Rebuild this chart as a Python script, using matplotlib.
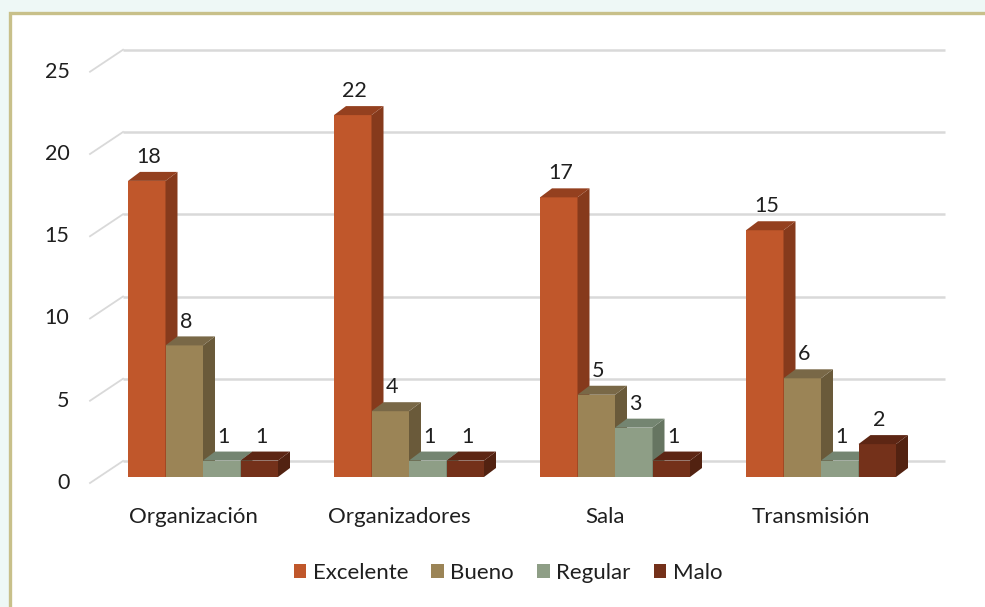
import matplotlib
matplotlib.use("Agg")
import matplotlib.pyplot as plt
from matplotlib.patches import Polygon, Rectangle, Patch

plt.rcParams["font.family"] = ["Lato", "DejaVu Sans"]

categories = ["Organización", "Organizadores", "Sala", "Transmisión"]
series = ["Excelente", "Bueno", "Regular", "Malo"]
excelente = [18, 22, 17, 15]
bueno = [8, 4, 5, 6]
regular = [1, 1, 3, 1]
malo = [1, 1, 1, 2]
yticks = [0, 5, 10, 15, 20, 25]

values = [excelente, bueno, regular, malo]
# front, side, top colours per series
colors = {
    "Excelente": ("#C0572B", "#863A1C", "#94401F"),
    "Bueno": ("#9B8456", "#6A5A3A", "#796847"),
    "Regular": ("#8E9E86", "#667561", "#748571"),
    "Malo": ("#74311A", "#522211", "#5D2614"),
}
txt_c = "#1f1f1f"

W, H = 985, 607
fig = plt.figure(figsize=(W / 100, H / 100), dpi=100)
fig.patch.set_facecolor("#eef8f6")

ax = fig.add_axes([0, 0, 1, 1])
ax.set_axis_off()
# pixel mapping: category center 0 at px 203, 206 px per category
# value 0 at py 477, 16.45 px per unit
ax.set_xlim(-203 / 206, (W - 203) / 206)
ax.set_ylim((477 - H) / 16.45, 477 / 16.45)

# white card with olive frame (left/top only visible)
ax.add_patch(Rectangle((9.5 / W, -0.1), 1.2, 1.1 - 12.5 / H,
                       transform=ax.transAxes, facecolor="white",
                       edgecolor="#C8C08A", linewidth=2.4, zorder=0))

bw = 37.5 / 206          # bar width
ddx, ddy = 12 / 206, 9 / 16.45          # bar depth
wall_x0, wall_x1 = (123 - 203) / 206, (945 - 203) / 206
front_x = (90 - 203) / 206
front_dy, back_dy = -6 / 16.45, 16 / 16.45

grid_c = "#d9d9d9"
for v in yticks:
    ax.plot([wall_x0, wall_x1], [v + back_dy, v + back_dy], color=grid_c,
            lw=1.8, solid_capstyle="butt", zorder=1)
    ax.plot([front_x, wall_x0], [v + front_dy, v + back_dy], color=grid_c,
            lw=1.3, zorder=1)
    ax.text(front_x - 0.1, v + front_dy, str(v), ha="right", va="center",
            fontsize=15.5, color=txt_c)

for i, cat in enumerate(categories):
    for j, name in enumerate(series):
        v = values[j][i]
        x0 = i - 2 * bw + j * bw
        x1 = x0 + bw
        fc, sc, tc = colors[name]
        ax.add_patch(Rectangle((x0, 0), bw, v, facecolor=fc, edgecolor="none", zorder=2))
        ax.add_patch(Polygon([(x1, 0), (x1 + ddx, ddy), (x1 + ddx, v + ddy), (x1, v)],
                             closed=True, facecolor=sc, edgecolor="none", zorder=2))
        ax.add_patch(Polygon([(x0, v), (x0 + ddx, v + ddy), (x1 + ddx, v + ddy), (x1, v)],
                             closed=True, facecolor=tc, edgecolor="none", zorder=2))
        ax.text(x0 + bw / 2 + 0.01, v + 1.45, str(v), ha="center", va="center",
                fontsize=15.5, color=txt_c, zorder=3)
    ax.text(i - 10 / 206, (477 - 517) / 16.45, cat, ha="center", va="center",
            fontsize=16, color=txt_c)

handles = [Patch(facecolor=colors[s][0], edgecolor="none") for s in series]
ax.legend(handles, series, loc="center", bbox_to_anchor=(508 / W, 1 - 573 / H),
          bbox_transform=fig.transFigure, ncol=4, frameon=False, fontsize=16,
          handlelength=0.55, handleheight=0.55, handletextpad=0.3,
          columnspacing=1.05, labelcolor=txt_c)

fig.savefig("out.png", dpi=100, facecolor=fig.get_facecolor())
